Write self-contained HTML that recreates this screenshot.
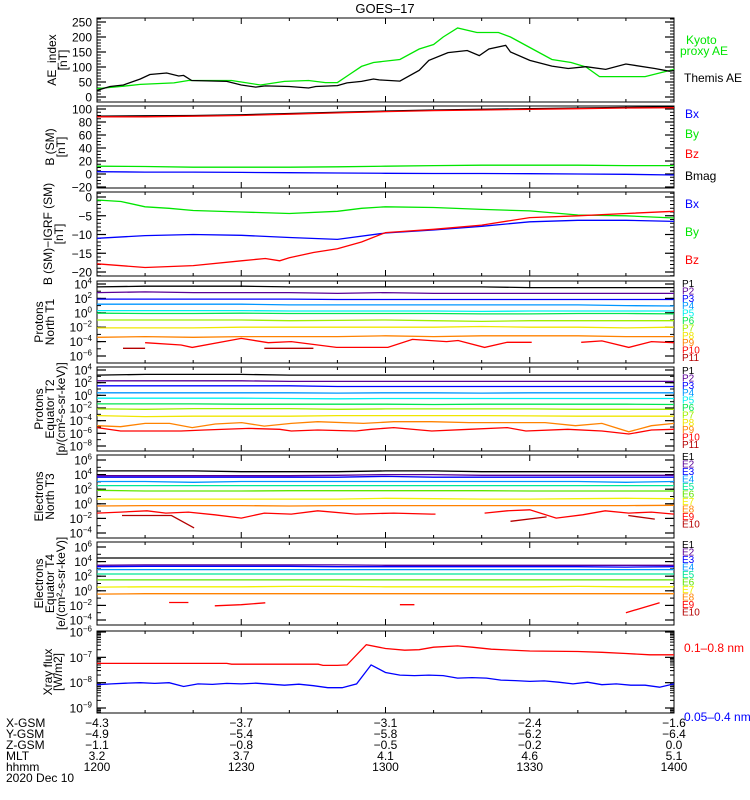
<!DOCTYPE html>
<html><head><meta charset="utf-8"><style>
html,body{margin:0;padding:0;background:#fff;}
svg{display:block;font-family:"Liberation Sans",sans-serif;}
</style></head><body>
<svg id="chart" width="750" height="800" viewBox="0 0 750 800" xmlns="http://www.w3.org/2000/svg">
<rect x="0" y="0" width="750" height="800" fill="#fff"/>
<text x="385" y="13" font-size="13" text-anchor="middle">GOES–17</text>
<g id="g"></g>
</svg>
<script>
// ---------- DATA ----------
const T13=[0,10,20,30,40,50,60,70,80,90,100,110,120];
// AE
const themisT=[0,2.7,5.5,9,11,14.5,17,18,19.7,27,30,33,35,40,44,45.5,50,52,55,57.5,58.7,63,67,69,73,77,79.5,81.5,85,86,90,94.6,98,101.7,105.8,110,116,119,120];
const themisV=[22,35,40,60,75,80,70,72,55,52,40,33,37,35,30,35,38,47,52,60,57,53,89,122,148,155,138,160,172,150,122,103,95,101,92,110,95,86,88];
const kyotoT=[0,5.5,9,16,19,28,34,39,44,47.5,50,52.5,55,57.5,63,67,70,72,75,79,83.5,86,90,94.6,98.6,101.7,104.5,114,120];
const kyotoV=[28,36,42,47,55,55,40,52,55,48,48,75,102,115,125,160,175,200,230,215,215,200,165,125,115,100,68,68,92];
// B (SM)
const bmagV=[89,89.5,90,91,93,95,97,98.5,99.5,100.5,101.5,102.5,103];
const bzV=[88,88,89,90,92,94,96,97.5,98.5,99.5,100.5,101.5,102];
const byV=[12,11.5,10.5,10.5,10.5,11,12,13,13.5,13.5,13.5,13,13];
const bxV=[3.5,3,3,2.5,2,1.5,1,0.8,0.8,0.5,0,-0.5,-1.5];
// B - IGRF
const dByT=[0,5,10,15,20,30,40,50,55,60,70,80,90,100,110,120];
const dByV=[-0.8,-1.2,-2.6,-3.0,-3.6,-4.0,-4.4,-3.8,-3.0,-2.6,-2.8,-3.3,-3.7,-4.8,-5.0,-5.6];
const dBxV=[-11,-10.3,-10,-10.2,-10.8,-11.3,-9.6,-8.8,-7.8,-6.6,-6.2,-6.2,-6.5];
const dBzT=[0,10,20,30,35,38,40,45,50,55,60,70,80,90,100,110,120];
const dBzV=[-17.8,-18.8,-18.3,-17,-16.4,-17,-16.2,-14.8,-13.8,-12,-9.5,-8.6,-7.5,-5.5,-5,-4.4,-3.8];
// Protons North T1 (log10)
const t1P1=[3.6,3.7,3.7,3.7,3.6,3.6,3.6,3.6,3.6,3.5,3.5,3.5,3.5];
const t1P2=[2.8,2.9,2.8,2.8,2.8,2.7,2.8,2.7,2.7,2.7,2.7,2.7,2.7];
const t1P3=[1.9,1.9,1.9,1.9,1.9,1.85,1.85,1.85,1.85,1.85,1.85,1.85,1.85];
const t1P4=[1.2,1.2,1.2,1.2,1.1,1.1,1.1,1.1,1.1,1.1,1.1,1.0,0.95];
const t1P5=[0.3,0.3,0.3,0.3,0.25,0.25,0.25,0.25,0.2,0.25,0.25,0.25,0.25];
const t1P6=[-0.05,-0.1,-0.1,-0.05,-0.1,-0.1,-0.1,-0.1,-0.15,-0.15,-0.1,-0.1,-0.15];
const t1P7=[-1.0,-1.0,-1.0,-1.0,-1.1,-1.05,-1.0,-1.1,-1.2,-1.1,-1.1,-1.1,-1.1];
const t1P8=[-2.1,-2.1,-2.1,-2.0,-2.0,-2.0,-2.0,-2.0,-1.9,-2.0,-2.0,-2.1,-2.0];
const t1P9=[-3.4,-3.3,-3.4,-3.3,-3.3,-3.3,-3.2,-3.3,-3.2,-3.2,-3.2,-3.3,-3.3];
const t1P10T=[10,17.5,19.8,30,35.6,40.4,49.8,60.5,65.6,72.7,75.1,80.6,85.3,90.4,95,100.7,105,110.6,115.3,120];
const t1P10V=[-4.15,-4.47,-4.8,-3.55,-4.15,-4.0,-4.8,-4.8,-3.7,-4.0,-3.85,-4.8,-4.1,-4.1,null,-4.1,-3.9,-4.8,-4.0,-4.15];
const t1P11T=[5.4,10,20,34.8,45];
const t1P11V=[-4.93,-4.93,null,-4.93,-4.93];
// Protons Equator T2 (log10)
const t2P1=[3.2,3.3,3.3,3.3,3.2,3.2,3.2,3.2,3.2,3.2,3.2,3.2,3.2];
const t2P2=[2.3,2.3,2.3,2.3,2.2,2.2,2.2,2.2,2.2,2.2,2.2,2.2,2.2];
const t2P3=[1.5,1.5,1.5,1.5,1.5,1.4,1.4,1.4,1.4,1.4,1.4,1.4,1.4];
const t2P4=[0.4,0.4,0.4,0.4,0.4,0.35,0.4,0.4,0.35,0.4,0.4,0.4,0.4];
const t2P5=[-0.45,-0.45,-0.45,-0.45,-0.5,-0.55,-0.5,-0.5,-0.5,-0.5,-0.5,-0.5,-0.5];
const t2P6=[-1.35,-1.35,-1.35,-1.4,-1.4,-1.4,-1.4,-1.45,-1.4,-1.4,-1.4,-1.4,-1.45];
const t2P7=[-2.15,-2.2,-2.1,-2.1,-2.1,-2.2,-2.15,-2.15,-2.15,-2.15,-2.2,-2.2,-2.2];
const t2P8=[-3.2,-3.35,-3.3,-3.3,-3.3,-3.2,-3.2,-3.2,-3.2,-3.25,-3.3,-3.3,-3.3];
const t2P9T=[0,4.9,10,15.1,19.8,24.6,30.1,34.8,40.4,45.9,55.4,61.7,69.6,77.4,85.3,93.2,99.5,105,110.6,115.3,120];
const t2P9V=[-4.8,-4.96,-4.43,-4.43,-5.1,-4.53,-4.3,-4.85,-4.43,-4.17,-4.43,-4.17,-4.17,-4.3,-4.3,-4.3,-4.8,-4.43,-5.75,-4.8,-4.43];
const t2P10T=[0,4.9,17.5,22.3,31.6,38,40.4,45.9,53.8,57,61.7,69.6,77.4,85.3,89.2,97.9,105,110.6,115.3,120];
const t2P10V=[-5.1,-5.63,-5.63,-5.48,-5.22,-5.37,-5.63,-5.48,-5.63,-5.37,-5.1,-5.63,-5.37,-5.1,-5.63,-5.37,-5.63,-6.1,-5.48,-5.37];
// Electrons North T3 (log10)
const t3E1=[4.5,4.5,4.5,4.4,4.4,4.4,4.5,4.5,4.4,4.4,4.4,4.4,4.4];
const t3E2=[3.85,3.85,3.85,3.85,3.85,3.9,4.0,4.0,3.9,3.9,3.9,3.9,3.9];
const t3E3=[3.65,3.65,3.65,3.65,3.65,3.65,3.75,3.65,3.65,3.65,3.65,3.65,3.65];
const t3E4=[3.05,3.05,2.95,3.05,3.05,3.05,3.05,3.05,3.05,3.05,3.05,2.95,3.05];
const t3E5=[2.5,2.5,2.5,2.5,2.5,2.5,2.5,2.5,2.5,2.5,2.5,2.5,2.5];
const t3E6=[1.85,1.75,1.75,1.75,1.8,1.8,1.8,1.8,1.8,1.75,1.75,1.75,1.75];
const t3E7=[0.65,0.65,0.65,0.65,0.65,0.65,0.75,0.7,0.65,0.65,0.7,0.75,0.7];
const t3E8=[-0.3,-0.25,-0.25,-0.25,-0.3,-0.25,-0.25,-0.25,-0.25,-0.25,-0.25,-0.25,-0.2];
const t3E9T=[0,4.9,10.4,14.3,19,24.5,30,34.8,40.4,45.9,53.8,61.7,69.6,70.4,75,80.6,85.3,90,95.5,101,105.7,110.6,115.3,120];
const t3E9V=[-1.28,-1.14,-0.96,-1.28,-1.14,-1.5,-1.96,-1.28,-1.41,-0.96,-1.41,-1.28,-1.41,-1.41,null,-1.28,-0.96,-0.82,-1.96,-1.5,-0.96,-1.28,-1.14,-1.41];
const t3E10T=[5.2,15.5,20.2,50,86,93.5,100,110.5,116];
const t3E10V=[-1.6,-1.6,-3.3,null,-2.4,-1.8,null,-1.6,-2.1];
// Electrons Equator T4 (log10)
const t4E1=[4.5,4.5,4.5,4.5,4.5,4.5,4.5,4.5,4.5,4.5,4.5,4.5,4.5];
const t4E2=[3.5,3.55,3.55,3.55,3.55,3.55,3.5,3.5,3.5,3.5,3.5,3.5,3.5];
const t4E3=[3.3,3.35,3.35,3.35,3.35,3.3,3.3,3.3,3.3,3.3,3.3,3.25,3.3];
const t4E4=[2.9,2.9,2.9,2.9,2.9,2.9,2.9,2.9,2.9,2.9,2.9,2.9,2.9];
const t4E5=[2.3,2.3,2.3,2.3,2.3,2.3,2.3,2.3,2.3,2.3,2.3,2.3,2.3];
const t4E6=[1.5,1.5,1.5,1.5,1.5,1.5,1.5,1.5,1.5,1.5,1.5,1.5,1.5];
const t4E7=[0.5,0.55,0.55,0.55,0.6,0.6,0.55,0.55,0.55,0.55,0.6,0.55,0.55];
const t4E8=[-0.45,-0.4,-0.4,-0.4,-0.4,-0.4,-0.4,-0.4,-0.4,-0.4,-0.4,-0.4,-0.4];
const t4E9T=[15,19,20,24.5,30,35,40,63,66,70,110,117];
const t4E9V=[-1.6,-1.6,null,-2.05,-1.9,-1.64,null,-1.9,-1.9,null,-3.0,-1.64];
// X-ray flux (log10 W/m2)
const xLongT=[0,27,28,46,47,50,52,56,60,64,67,70,75,78,82,90,100,105,110,115,120];
const xLongV=[-7.24,-7.24,-7.27,-7.27,-7.32,-7.32,-7.3,-6.5,-6.65,-6.72,-6.7,-6.6,-6.55,-6.6,-6.68,-6.75,-6.77,-6.8,-6.85,-6.9,-6.9];
const xShortV=[-8.08,-8.05,-8.02,-8.0,-8.03,-8.0,-8.15,-8.05,-8.07,-8.03,-8.05,-8.02,-8.06,-8.1,-8.06,-8.12,-8.2,-8.2,-8.05,-7.3,-7.6,-7.7,-7.72,-7.7,-7.72,-7.82,-7.8,-7.82,-7.9,-7.92,-7.95,-7.93,-7.98,-8.05,-7.98,-8.08,-8.05,-8.1,-8.1,-8.18,-8.05];
// x-axis annotation
const hhmm=["1200","1230","1300","1330","1400"];
const xgsm=["-4.3","-3.7","-3.1","-2.4","-1.6"];
const ygsm=["-4.9","-5.4","-5.8","-6.2","-6.4"];
const zgsm=["-1.1","-0.8","-0.5","-0.2","0.0"];
const mlt=["3.2","3.7","4.1","4.6","5.1"];
const tickT=[0,30,60,90,120];

// ---------- LAYOUT ----------
const NS="http://www.w3.org/2000/svg";
const g=document.getElementById('g');
const X0=97,X1=674;
function tx(t){return X0+(X1-X0)*t/120;}
function mk(tag,attrs,parent){const e=document.createElementNS(NS,tag);for(const k in attrs)e.setAttribute(k,attrs[k]);(parent||g).appendChild(e);return e;}
const P=[
 {top:18,bot:102,v0:0,y0:97,v1:250,y1:22,log:false,maj:[0,50,100,150,200,250],minStep:10,name:'ae-panel'},
 {top:106,bot:188,v0:100,y0:109,v1:-20,y1:187,log:false,maj:[100,80,60,40,20,0,-20],minStep:5,name:'bsm-panel'},
 {top:192,bot:276,v0:0,y0:197,v1:-20,y1:272,log:false,maj:[0,-5,-10,-15,-20],minStep:1,name:'bigrf-panel'},
 {top:281,bot:363,v0:4,y0:284,v1:-6,y1:356,log:true,maj:[4,2,0,-2,-4,-6],name:'protons-t1-panel'},
 {top:367,bot:451,v0:4,y0:370,v1:-8,y1:446,log:true,maj:[4,2,0,-2,-4,-6,-8],name:'protons-t2-panel'},
 {top:455,bot:538,v0:6,y0:460,v1:-4,y1:533,log:true,maj:[6,4,2,0,-2,-4],name:'electrons-t3-panel'},
 {top:542,bot:625,v0:6,y0:547,v1:-4,y1:620,log:true,maj:[6,4,2,0,-2,-4],name:'electrons-t4-panel'},
 {top:631,bot:713,v0:-6,y0:632,v1:-9,y1:708,log:true,maj:[-6,-7,-8,-9],xray:true,name:'xray-panel'}
];
P.forEach(p=>{p.vt=p.v0+(p.top-p.y0)*(p.v1-p.v0)/(p.y1-p.y0);p.vb=p.v0+(p.bot-p.y0)*(p.v1-p.v0)/(p.y1-p.y0);});
function ym(p,v){return p.y0+(v-p.v0)*(p.y1-p.y0)/(p.v1-p.v0);}
function series(p,ts,vs,color,name){
  let d='',pen=false;
  for(let i=0;i<ts.length;i++){
    const v=vs[i];
    if(v===null||v===undefined){pen=false;continue;}
    const x=tx(ts[i]).toFixed(1),y=ym(p,v).toFixed(1);
    d+=(pen?'L':'M')+x+' '+y+' ';pen=true;
  }
  const e=mk('path',{d:d,fill:'none',stroke:color,'stroke-width':1.3});
  
  
}
function t41(){const a=[];for(let i=0;i<41;i++)a.push(i*3);return a;}

// frames and ticks
P.forEach((p,pi)=>{
  const fr=mk('rect',{x:X0,y:p.top,width:X1-X0,height:p.bot-p.top,fill:'none',stroke:'#000','stroke-width':1});
  
  
  // x ticks
  for(let t=10;t<120;t+=10){
    const L=(t%30===0)?6:3;
    mk('line',{x1:tx(t),x2:tx(t),y1:p.bot,y2:p.bot-L,stroke:'#000'});
    mk('line',{x1:tx(t),x2:tx(t),y1:p.top,y2:p.top+L,stroke:'#000'});
  }
  // y minor ticks
  let minors=[];
  if(!p.log){for(let v=Math.ceil(p.vb/p.minStep)*p.minStep;v<=p.vt;v+=p.minStep)minors.push(v);}
  else if(p.xray){for(let d=-10;d<=-5;d++)for(let k=2;k<=9;k++){const v=d+Math.log10(k);if(v>p.vb&&v<p.vt)minors.push(v);}}
  else{for(let v=Math.ceil(p.vb);v<=p.vt;v++)minors.push(v);}
  minors.forEach(v=>{const y=ym(p,v);mk('line',{x1:X0,x2:X0+4,y1:y,y2:y,stroke:'#000'});mk('line',{x1:X1,x2:X1-4,y1:y,y2:y,stroke:'#000'});});
  p.maj.forEach(v=>{
    const y=ym(p,v);
    mk('line',{x1:X0,x2:X0+9,y1:y,y2:y,stroke:'#000','stroke-width':1.2});
    mk('line',{x1:X1,x2:X1-9,y1:y,y2:y,stroke:'#000','stroke-width':1.2});
    const tl=mk('text',{x:92,y:y+4.5,'font-size':12,'text-anchor':'end'});
    
    
    if(p.log){tl.textContent='10';const s=mk('tspan',{dy:-5,'font-size':8},tl);s.textContent=String(v).replace('-','−');}
    else tl.textContent=String(v).replace('-','−');
  });
});

// y-axis titles
const titles=[
 [0,[[52,'AE_index'],[63,'[nT]']]],
 [1,[[50,'B (SM)'],[61,'[nT]']]],
 [2,[[48,'B (SM)−IGRF (SM)'],[59,'[nT]']]],
 [3,[[39,'Protons'],[50,'North T1']]],
 [4,[[39,'Protons'],[50,'Equator T2'],[61,'[p/(cm²-s-sr-keV)]']]],
 [5,[[39,'Electrons'],[50,'North T3']]],
 [6,[[39,'Electrons'],[50,'Equator T4'],[61,'[e/(cm²-s-sr-keV)]']]],
 [7,[[48,'Xray flux'],[58,'[W/m2]']]]
];
titles.forEach(([pi,lines])=>{
  const p=P[pi],cy=(p.top+p.bot)/2;
  lines.forEach(([x,s])=>{
    const e=mk('text',{x:x,y:cy,'font-size':12,'text-anchor':'middle',transform:'rotate(-90 '+x+' '+cy+')','dominant-baseline':'central'});
    e.textContent=s;
    
    
  });
});

// series
const C11=['#000000','#5a0096','#0000ff','#0096ff','#00f0f0','#00e650','#a0f000','#f0e600','#ff8200','#ff0000','#b40000'];
const C10=['#000000','#5a0096','#0000ff','#0096ff','#00e696','#60e600','#f0f000','#ff8200','#ff0000','#b40000'];
series(P[0],kyotoT,kyotoV,'#00e600','kyoto-ae-line');
series(P[0],themisT,themisV,'#000','themis-ae-line');
series(P[1],T13,bmagV,'#000','bmag-line');
series(P[1],T13,bzV,'#ff0000','bz-line');
series(P[1],T13,byV,'#00e600','by-line');
series(P[1],T13,bxV,'#0000ff','bx-line');
series(P[2],dByT,dByV,'#00e600','dby-line');
series(P[2],T13,dBxV,'#0000ff','dbx-line');
series(P[2],dBzT,dBzV,'#ff0000','dbz-line');
[t1P1,t1P2,t1P3,t1P4,t1P5,t1P6,t1P7,t1P8,t1P9].forEach((a,i)=>series(P[3],T13,a,C11[i],'t1-p'+(i+1)+'-line'));
series(P[3],t1P10T,t1P10V,C11[9],'t1-p10-line');
series(P[3],t1P11T,t1P11V,C11[10],'t1-p11-line');
[t2P1,t2P2,t2P3,t2P4,t2P5,t2P6,t2P7,t2P8].forEach((a,i)=>series(P[4],T13,a,C11[i],'t2-p'+(i+1)+'-line'));
series(P[4],t2P9T,t2P9V,C11[8],'t2-p9-line');
series(P[4],t2P10T,t2P10V,C11[9],'t2-p10-line');
[t3E1,t3E2,t3E3,t3E4,t3E5,t3E6,t3E7,t3E8].forEach((a,i)=>series(P[5],T13,a,C10[i],'t3-e'+(i+1)+'-line'));
series(P[5],t3E9T,t3E9V,C10[8],'t3-e9-line');
series(P[5],t3E10T,t3E10V,C10[9],'t3-e10-line');
[t4E1,t4E2,t4E3,t4E4,t4E5,t4E6,t4E7,t4E8].forEach((a,i)=>series(P[6],T13,a,C10[i],'t4-e'+(i+1)+'-line'));
series(P[6],t4E9T,t4E9V,C10[8],'t4-e9-line');
series(P[7],xLongT,xLongV,'#ff0000','xray-long-line');
series(P[7],t41(),xShortV,'#0000ff','xray-short-line');

// right legends
function leg(x,y,s,c,fs,name){const e=mk('text',{x:x,y:y,'font-size':fs,fill:c});e.textContent=s;}
leg(686,44,'Kyoto','#00e600',12,'legend-kyoto');
leg(680,55,'proxy AE','#00e600',12,'legend-kyoto');
leg(684,82,'Themis AE','#000',12,'legend-themis');
leg(685,118,'Bx','#0000ff',12,'legend-bx');
leg(685,138,'By','#00e600',12,'legend-by');
leg(685,158,'Bz','#ff0000',12,'legend-bz');
leg(685,180,'Bmag','#000',12,'legend-bmag');
leg(685,208,'Bx','#0000ff',12,'legend-bx');
leg(685,236,'By','#00e600',12,'legend-by');
leg(685,264,'Bz','#ff0000',12,'legend-bz');
function chanLeg(y0,n,pre,cols,step){for(let i=0;i<n;i++){leg(682,y0+i*step,pre+(i+1),cols[i],10,'legend-'+pre.toLowerCase()+(i+1));}}
chanLeg(287,11,'P',C11,7.4);
chanLeg(374,11,'P',C11,7.4);
chanLeg(460,10,'E',C10,7.5);
chanLeg(548,10,'E',C10,7.5);
leg(684,652,'0.1–0.8 nm','#ff0000',12,'legend-xray-long');
leg(684,721,'0.05–0.4 nm','#0000ff',12,'legend-xray-short');

// bottom annotation
const rowsY=[727,738,749,760,771];
const rowNames=['X-GSM','Y-GSM','Z-GSM','MLT','hhmm'];
const rowVals=[xgsm,ygsm,zgsm,mlt,hhmm];
rowNames.forEach((n,r)=>{
  leg(6,rowsY[r],n,'#000',12,'x-row-label');
  rowVals[r].forEach((s,i)=>{
    const e=mk('text',{x:tx(tickT[i]),y:rowsY[r],'font-size':12,'text-anchor':'middle'});
    e.textContent=s.replace('-','−');
    
    
  });
});
leg(6,782,'2020 Dec 10','#000',12,'date-label');
</script>
</body></html>
